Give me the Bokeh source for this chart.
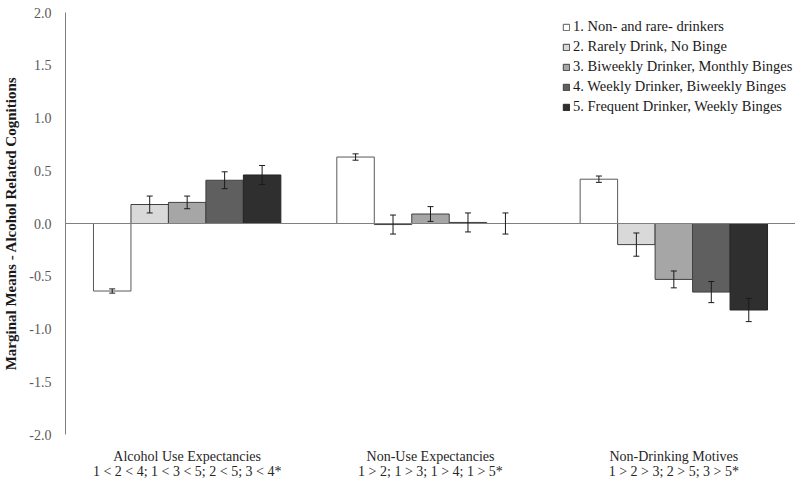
from bokeh.plotting import figure
from bokeh.models import (ColumnDataSource, FactorRange, Whisker, TeeHead, Span,
                          Legend, LegendItem, FixedTicker)
from bokeh.transform import dodge
from bokeh.embed import file_html
from bokeh.resources import INLINE

# ---------------- data ----------------
groups = ["Alcohol Use Expectancies", "Non-Use Expectancies", "Non-Drinking Motives"]
group_notes = ["1 < 2 < 4; 1 < 3 < 5; 2 < 5; 3 < 4*",
               "1 > 2; 1 > 3; 1 > 4; 1 > 5*",
               "1 > 2 > 3; 2 > 5; 3 > 5*"]
series_names = ["1. Non- and rare- drinkers",
                "2. Rarely Drink, No Binge",
                "3. Biweekly Drinker, Monthly Binges",
                "4. Weekly Drinker, Biweekly Binges",
                "5. Frequent Drinker, Weekly Binges"]
s1_mean = [-0.64, 0.63, 0.42]
s1_err = [0.02, 0.03, 0.03]
s2_mean = [0.18, -0.01, -0.20]
s2_err = [0.08, 0.09, 0.11]
s3_mean = [0.20, 0.09, -0.53]
s3_err = [0.06, 0.07, 0.08]
s4_mean = [0.41, 0.01, -0.65]
s4_err = [0.08, 0.09, 0.10]
s5_mean = [0.46, 0.00, -0.82]
s5_err = [0.09, 0.10, 0.11]
y_ticks = [-2.0, -1.5, -1.0, -0.5, 0.0, 0.5, 1.0, 1.5, 2.0]

means = [s1_mean, s2_mean, s3_mean, s4_mean, s5_mean]
errs = [s1_err, s2_err, s3_err, s4_err, s5_err]
axis_labels = [g + "\n" + n for g, n in zip(groups, group_notes)]

# ---------------- style ----------------
fills = ["#ffffff", "#d9d9d9", "#a6a6a6", "#5f5f5f", "#2f2f2f"]
lines = ["#595959", "#404040", "#404040", "#404040", "#262626"]
SERIF = "Liberation Serif"
bar_w = 0.154

p = figure(width=795, height=482, x_range=FactorRange(factors=groups, range_padding=0),
           y_range=(-2.0, 2.0), output_backend="svg", toolbar_location=None,
           min_border_left=63, min_border_right=0, min_border_top=12, min_border_bottom=48)
p.extra_x_ranges = {"labels": FactorRange(factors=axis_labels, range_padding=0)}
p.outline_line_color = None
p.xgrid.grid_line_color = None
p.ygrid.grid_line_color = None

items = []
for i in range(5):
    off = (i - 2) * bar_w
    src = ColumnDataSource(dict(cat=groups, val=means[i],
                                upper=[m + e for m, e in zip(means[i], errs[i])],
                                lower=[m - e for m, e in zip(means[i], errs[i])]))
    r = p.vbar(x=dodge("cat", off, range=p.x_range), top="val", bottom=0, width=bar_w,
               source=src, fill_color=fills[i], line_color=lines[i], line_width=1)
    items.append(LegendItem(label=series_names[i], renderers=[r]))
    w = Whisker(source=src, base=dodge("cat", off, range=p.x_range), upper="upper", lower="lower",
                line_color="#1a1a1a", line_width=1, level="overlay",
                upper_head=TeeHead(size=6, line_color="#1a1a1a", line_width=1),
                lower_head=TeeHead(size=6, line_color="#1a1a1a", line_width=1))
    p.add_layout(w)

p.add_layout(Span(location=0, dimension="width", line_color="#7f7f7f", line_width=1))

legend = Legend(items=items, location=(497, 319), margin=0, padding=1,
                label_text_font=SERIF, label_text_font_size="14.5px", label_text_color="#1a1a1a",
                label_text_line_height=1.1,
                glyph_width=8, glyph_height=8, label_height=14, label_standoff=3, spacing=3,
                background_fill_alpha=0, border_line_color=None)
p.add_layout(legend)

# y axis
p.yaxis.ticker = FixedTicker(ticks=y_ticks)
p.yaxis.major_label_overrides = {t: f"{t:.1f}" for t in y_ticks}
p.yaxis.major_tick_line_color = None
p.yaxis.major_tick_out = 0
p.yaxis.major_tick_in = 0
p.yaxis.minor_tick_line_color = None
p.yaxis.axis_line_color = "#7f7f7f"
p.yaxis.major_label_standoff = 14
p.yaxis.major_label_text_font = SERIF
p.yaxis.major_label_text_font_size = "14px"
p.yaxis.major_label_text_color = "#595959"
p.yaxis.axis_label = "Marginal Means - Alcohol Related Cognitions"
p.yaxis.axis_label_text_font = SERIF
p.yaxis.axis_label_text_font_style = "bold"
p.yaxis.axis_label_text_font_size = "15px"
p.yaxis.axis_label_text_color = "#1a1a1a"
p.yaxis.axis_label_standoff = 7

# x axis: two-line category labels
ax = p.xaxis[0]
ax.x_range_name = "labels"
ax.axis_line_color = None
ax.major_tick_line_color = None
ax.minor_tick_line_color = None
ax.major_tick_out = 0
ax.major_tick_in = 0
ax.major_label_standoff = 14
ax.major_label_text_font = SERIF
ax.major_label_text_font_size = "14px"
ax.major_label_text_line_height = 1.0
ax.major_label_text_color = "#262626"

open("out.html", "w").write(file_html(p, INLINE))
